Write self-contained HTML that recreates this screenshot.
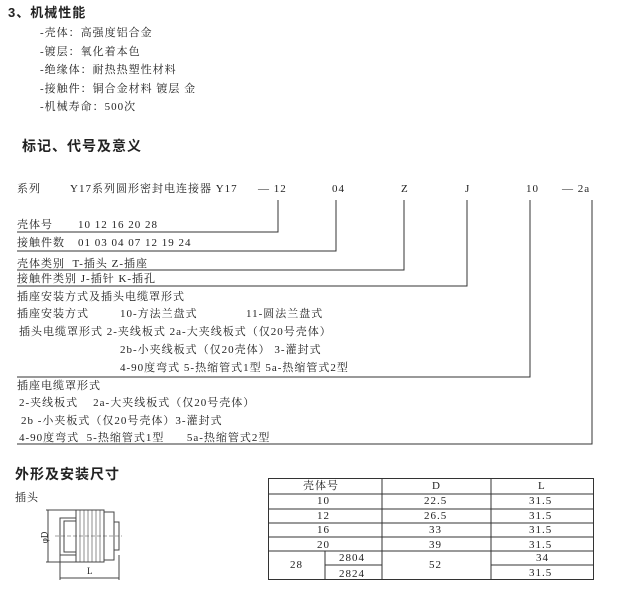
<!DOCTYPE html>
<html><head><meta charset="utf-8"><style>
body{margin:0;width:621px;height:591px;background:#fff;position:relative;overflow:hidden;font-family:"Liberation Serif","Noto Serif CJK SC","Noto Sans CJK SC",serif;color:#222;font-size:11px;letter-spacing:1px}
.t{position:absolute;white-space:nowrap;line-height:1}
.h{font-family:"Liberation Sans","Noto Sans CJK SC",sans-serif;font-weight:bold;font-size:14px;letter-spacing:1px}
.n{letter-spacing:0}
svg{position:absolute;left:0;top:0}
</style></head><body>
<div class="t h" style="left:8px;top:6px;font-size:13px">3、机械性能</div>
<div class="t" style="left:40px;top:28px">-壳体：高强度铝合金</div>
<div class="t" style="left:40px;top:47px">-镀层：氧化着本色</div>
<div class="t" style="left:40px;top:65px">-绝缘体：耐热热塑性材料</div>
<div class="t" style="left:40px;top:84px">-接触件：铜合金材料 镀层 金</div>
<div class="t" style="left:40px;top:102px">-机械寿命：500次</div>
<div class="t h" style="left:22px;top:139px">标记、代号及意义</div>

<div class="t" style="left:17px;top:184px">系列</div>
<div class="t" style="left:70px;top:184px">Y17系列圆形密封电连接器 Y17</div>
<div class="t" style="left:258px;top:184px">— 12</div>
<div class="t" style="left:332px;top:184px">04</div>
<div class="t" style="left:401px;top:184px">Z</div>
<div class="t" style="left:465px;top:184px">J</div>
<div class="t" style="left:526px;top:184px">10</div>
<div class="t" style="left:562px;top:184px">— 2a</div>

<div class="t" style="left:17px;top:220px">壳体号</div>
<div class="t" style="left:78px;top:220px">10 12 16 20 28</div>
<div class="t" style="left:17px;top:238px">接触件数</div>
<div class="t" style="left:78px;top:238px">01 03 04 07 12 19 24</div>
<div class="t" style="left:17px;top:259px">壳体类别&nbsp; T-插头 Z-插座</div>
<div class="t" style="left:17px;top:274px">接触件类别 J-插针 K-插孔</div>
<div class="t" style="left:17px;top:292px">插座安装方式及插头电缆罩形式</div>
<div class="t" style="left:17px;top:309px">插座安装方式</div>
<div class="t" style="left:120px;top:309px">10-方法兰盘式</div>
<div class="t" style="left:246px;top:309px">11-圆法兰盘式</div>
<div class="t" style="left:19px;top:327px">插头电缆罩形式 2-夹线板式 2a-大夹线板式（仅20号壳体）</div>
<div class="t" style="left:120px;top:345px">2b-小夹线板式（仅20壳体） 3-灌封式</div>
<div class="t" style="left:120px;top:363px">4-90度弯式 5-热缩管式1型 5a-热缩管式2型</div>
<div class="t" style="left:17px;top:381px">插座电缆罩形式</div>
<div class="t" style="left:19px;top:398px">2-夹线板式&nbsp;&nbsp;&nbsp; 2a-大夹线板式（仅20号壳体）</div>
<div class="t" style="left:21px;top:416px">2b -小夹板式（仅20号壳体）3-灌封式</div>
<div class="t" style="left:19px;top:433px">4-90度弯式&nbsp; 5-热缩管式1型&nbsp;&nbsp;&nbsp;&nbsp;&nbsp; 5a-热缩管式2型</div>

<div class="t h" style="left:15px;top:467px">外形及安装尺寸</div>
<div class="t" style="left:15px;top:493px">插头</div>

<svg width="621" height="591" stroke="#333" fill="none" stroke-width="1">
<path d="M278 200V232H17M336 200V251H17M404 200V270H17M467 200V286H17M530 200V377H17M592 200V444H17"/>
<rect x="268.5" y="478.5" width="325" height="101"/>
<path d="M382 478V579M491 478V579M268 494H593M268 509H593M268 523H593M268 537H593M268 551H593M325 551V579M325 565H382M491 565H593"/>
<g stroke="#444">
<path d="M48 510V562M46 510H76M46 562H76M60 520V580M119 555V580M60 578H119"/>
<rect x="60" y="518" width="16" height="37"/>
<rect x="64" y="521" width="12" height="31"/>
<rect x="76" y="510" width="28" height="52"/>
<rect x="104" y="512" width="10" height="48"/>
<rect x="114" y="522" width="5" height="28"/>
<path d="M80 510V562M84 510V562M88 510V562M92 510V562M96 510V562M100 510V562" stroke-width="0.6"/>
<path d="M55 536H122" stroke-dasharray="4 2" stroke-width="0.6"/>
</g>
</svg>
<div class="t n" style="left:39px;top:533px;font-size:9px;transform:rotate(-90deg)">φD</div>
<div class="t" style="left:87px;top:567px;font-size:9px">L</div>

<div class="t" style="left:303px;top:481px">壳体号</div>
<div class="t" style="left:432px;top:481px">D</div>
<div class="t" style="left:538px;top:481px">L</div>
<div class="t" style="left:317px;top:496px">10</div><div class="t" style="left:424px;top:496px">22.5</div><div class="t" style="left:529px;top:496px">31.5</div>
<div class="t" style="left:317px;top:511px">12</div><div class="t" style="left:424px;top:511px">26.5</div><div class="t" style="left:529px;top:511px">31.5</div>
<div class="t" style="left:317px;top:525px">16</div><div class="t" style="left:429px;top:525px">33</div><div class="t" style="left:529px;top:525px">31.5</div>
<div class="t" style="left:317px;top:540px">20</div><div class="t" style="left:429px;top:540px">39</div><div class="t" style="left:529px;top:540px">31.5</div>
<div class="t" style="left:290px;top:560px">28</div><div class="t" style="left:339px;top:553px">2804</div><div class="t" style="left:339px;top:569px">2824</div>
<div class="t" style="left:429px;top:560px">52</div><div class="t" style="left:536px;top:553px">34</div><div class="t" style="left:529px;top:568px">31.5</div>
</body></html>
